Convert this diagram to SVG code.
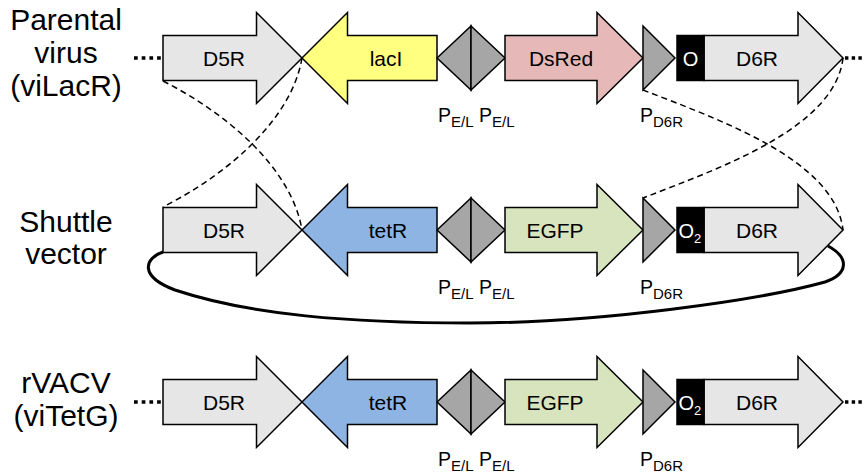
<svg xmlns="http://www.w3.org/2000/svg" width="865" height="475" viewBox="0 0 865 475">
<style>
text{font-family:"Liberation Sans",Arial,sans-serif;fill:#000}
.g{stroke:#000;stroke-width:1.5;stroke-linejoin:miter}
.gray{fill:#e6e6e6}
.yel{fill:#ffff80}
.pink{fill:#e6b9b8}
.blue{fill:#8eb4e3}
.green{fill:#d7e4bd}
.prom{fill:#a6a6a6}
.box{fill:#000;stroke:#000;stroke-width:1.5}
.lbl{font-size:21px;text-anchor:middle}
.side{font-size:30px;text-anchor:middle}
.p{font-size:19.5px}
.sub{font-size:15px}
.otxt{font-size:20px;fill:#fff}
.osub{font-size:13px;fill:#fff}
.dotsL{stroke:#000;stroke-width:3.7;stroke-dasharray:3.7,4}
.dotsR{stroke:#000;stroke-width:3.5;stroke-dasharray:3.4,3.3}
.dash{fill:none;stroke:#000;stroke-width:1.5;stroke-dasharray:6,4}
.loop{fill:none;stroke:#000;stroke-width:3}
</style>
<rect width="865" height="475" fill="#fff"/>

<g id="connectors">
<path class="dash" d="M163,81 C230,115 292,170 302,230"/>
<path class="dash" d="M302,58 C292,118 230,173 163,207"/>
<path class="dash" d="M643,90 C720,120 835,160 843,230"/>
<path class="dash" d="M843,58 C835,128 720,168 643,198"/>
<path class="loop" d="M163,252 C145,258 138,276 175,290 C250,315 350,323 470,323 C600,323 760,300 825,282 C848,274 850,258 828,246"/>
</g>

<g id="label-parental"><text class="side"><tspan x="66" y="30">Parental</tspan><tspan x="66" y="63">virus</tspan><tspan x="66" y="96">(viLacR)</tspan></text></g>
<g id="label-shuttle"><text class="side"><tspan x="66" y="232">Shuttle</tspan><tspan x="66" y="264">vector</tspan></text></g>
<g id="label-rvacv"><text class="side"><tspan x="66" y="393">rVACV</tspan><tspan x="66" y="426">(viTetG)</tspan></text></g>

<g id="row1" transform="translate(0,58)">
 <line class="dotsL" x1="134" y1="0" x2="161" y2="0"/>
 <g id="r1-D5R"><polygon class="g gray" points="163,-22.5 256.5,-22.5 256.5,-45.5 302,0 256.5,45.5 256.5,22.5 163,22.5"/><text class="lbl" x="224" y="8">D5R</text></g>
 <g id="r1-lacI"><polygon class="g yel" points="302,0 347.5,-45.5 347.5,-22.5 437,-22.5 437,22.5 347.5,22.5 347.5,45.5"/><text class="lbl" x="386" y="8">lacI</text></g>
 <g id="r1-PEL"><polygon class="g prom" points="437,0 471,-32 471,32"/><polygon class="g prom" points="471,-32 505,0 471,32"/><text class="p" x="438" y="63.5">P<tspan class="sub" dy="5">E/L</tspan></text><text class="p" x="479" y="63.5">P<tspan class="sub" dy="5">E/L</tspan></text></g>
 <g id="r1-DsRed"><polygon class="g pink" points="505,-22.5 597,-22.5 597,-45.5 643,0 597,45.5 597,22.5 505,22.5"/><text class="lbl" x="561" y="8">DsRed</text></g>
 <g id="r1-PD6R"><polygon class="g prom" points="643,-32 675,0 643,32"/><text class="p" x="640" y="63.5">P<tspan class="sub" dy="5">D6R</tspan></text></g>
 <g id="r1-D6R"><polygon class="g gray" points="704,-22.5 798,-22.5 798,-45.5 843,0 798,45.5 798,22.5 704,22.5"/><text class="lbl" x="757" y="8">D6R</text></g>
 <g id="r1-O"><rect class="box" x="677" y="-22.5" width="27" height="45"/><text class="otxt" x="690.5" y="7.5" text-anchor="middle">O</text></g>
 <line class="dotsR" x1="845" y1="0" x2="865" y2="0"/>
</g>

<g id="row2" transform="translate(0,230)">
 <g id="r2-D5R"><polygon class="g gray" points="163,-22.5 256.5,-22.5 256.5,-45.5 302,0 256.5,45.5 256.5,22.5 163,22.5"/><text class="lbl" x="224" y="8">D5R</text></g>
 <g id="r2-tetR"><polygon class="g blue" points="302,0 347.5,-45.5 347.5,-22.5 437,-22.5 437,22.5 347.5,22.5 347.5,45.5"/><text class="lbl" x="388" y="8">tetR</text></g>
 <g id="r2-PEL"><polygon class="g prom" points="437,0 471,-32 471,32"/><polygon class="g prom" points="471,-32 505,0 471,32"/><text class="p" x="438" y="63.5">P<tspan class="sub" dy="5">E/L</tspan></text><text class="p" x="479" y="63.5">P<tspan class="sub" dy="5">E/L</tspan></text></g>
 <g id="r2-EGFP"><polygon class="g green" points="505,-22.5 597,-22.5 597,-45.5 643,0 597,45.5 597,22.5 505,22.5"/><text class="lbl" x="555" y="8">EGFP</text></g>
 <g id="r2-PD6R"><polygon class="g prom" points="643,-32 675,0 643,32"/><text class="p" x="640" y="63.5">P<tspan class="sub" dy="5">D6R</tspan></text></g>
 <g id="r2-D6R"><polygon class="g gray" points="704,-22.5 798,-22.5 798,-45.5 843,0 798,45.5 798,22.5 704,22.5"/><text class="lbl" x="757" y="8">D6R</text></g>
 <g id="r2-O2"><rect class="box" x="677" y="-22.5" width="27" height="45"/><text class="otxt" x="678.5" y="7.5">O<tspan class="osub" dy="5">2</tspan></text></g>
</g>

<g id="row3" transform="translate(0,402)">
 <line class="dotsL" x1="134" y1="0" x2="161" y2="0"/>
 <g id="r3-D5R"><polygon class="g gray" points="163,-22.5 256.5,-22.5 256.5,-45.5 302,0 256.5,45.5 256.5,22.5 163,22.5"/><text class="lbl" x="224" y="8">D5R</text></g>
 <g id="r3-tetR"><polygon class="g blue" points="302,0 347.5,-45.5 347.5,-22.5 437,-22.5 437,22.5 347.5,22.5 347.5,45.5"/><text class="lbl" x="388" y="8">tetR</text></g>
 <g id="r3-PEL"><polygon class="g prom" points="437,0 471,-32 471,32"/><polygon class="g prom" points="471,-32 505,0 471,32"/><text class="p" x="438" y="63.5">P<tspan class="sub" dy="5">E/L</tspan></text><text class="p" x="479" y="63.5">P<tspan class="sub" dy="5">E/L</tspan></text></g>
 <g id="r3-EGFP"><polygon class="g green" points="505,-22.5 597,-22.5 597,-45.5 643,0 597,45.5 597,22.5 505,22.5"/><text class="lbl" x="555" y="8">EGFP</text></g>
 <g id="r3-PD6R"><polygon class="g prom" points="643,-32 675,0 643,32"/><text class="p" x="640" y="63.5">P<tspan class="sub" dy="5">D6R</tspan></text></g>
 <g id="r3-D6R"><polygon class="g gray" points="704,-22.5 798,-22.5 798,-45.5 843,0 798,45.5 798,22.5 704,22.5"/><text class="lbl" x="757" y="8">D6R</text></g>
 <g id="r3-O2"><rect class="box" x="677" y="-22.5" width="27" height="45"/><text class="otxt" x="678.5" y="7.5">O<tspan class="osub" dy="5">2</tspan></text></g>
 <line class="dotsR" x1="845" y1="0" x2="865" y2="0"/>
</g>
</svg>
